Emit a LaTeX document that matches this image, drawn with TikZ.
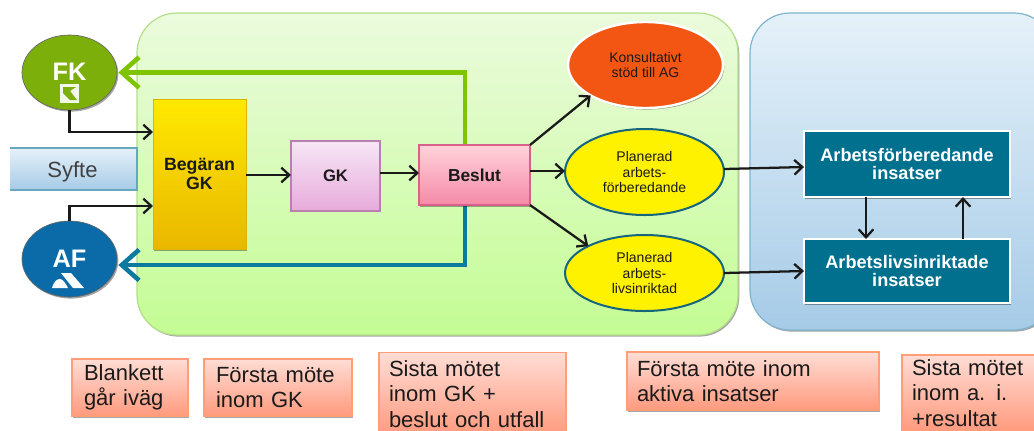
\documentclass[tikz,border=0pt]{standalone}
\usepackage{fontspec}
\setmainfont{Liberation Sans}
\usetikzlibrary{arrows.meta,shapes.geometric,shadows}
\definecolor{panelgT}{HTML}{EBFBDD}\definecolor{panelgB}{HTML}{C4FC94}\definecolor{panelgL}{HTML}{B4DE88}
\definecolor{panelbT}{HTML}{E5F1F9}\definecolor{panelbB}{HTML}{A6CBE7}\definecolor{panelbL}{HTML}{7FB4CE}
\definecolor{fkgreen}{HTML}{7DAF0A}\definecolor{afblue}{HTML}{0B6BA8}
\definecolor{arrgreen}{HTML}{7FC400}\definecolor{arrblue}{HTML}{0C7A9E}
\definecolor{orangeO}{HTML}{F25612}\definecolor{tealbox}{HTML}{00708F}\definecolor{yellowL}{HTML}{15657F}
\definecolor{noteT}{HTML}{FFDDD5}\definecolor{noteB}{HTML}{FF9A7E}\definecolor{noteL}{HTML}{FF9E78}
\definecolor{inkdark}{HTML}{1A1A1A}
\definecolor{begT}{HTML}{FFE900}\definecolor{begB}{HTML}{E9B700}\definecolor{begL}{HTML}{DDB300}
\definecolor{gkT}{HTML}{F7E6F5}\definecolor{gkB}{HTML}{E6ABDB}\definecolor{gkL}{HTML}{B87FB0}
\definecolor{beslT}{HTML}{FFD2DA}\definecolor{beslB}{HTML}{F58AA8}\definecolor{beslL}{HTML}{D9608A}
\tikzset{
  softshadow/.style={drop shadow={shadow xshift=1pt,shadow yshift=-1.2pt,opacity=.35,fill=black}},
  basenode/.style={inner sep=0pt,outer sep=0pt,align=center,text=inkdark},
  panel/.style={basenode,rectangle,rounded corners=30pt,line width=.9pt},
  elli/.style={basenode,ellipse,font=\fontsize{10.5}{11.3}\selectfont},
  planned/.style={elli,fill=yellow,draw=yellowL,line width=1.5pt},
  tealnode/.style={basenode,rectangle,fill=tealbox,draw=white,line width=2.2pt,text=white,
    font=\fontsize{13.6}{13.8}\selectfont\bfseries,softshadow},
  note/.style={basenode,rectangle,align=left,top color=noteT,bottom color=noteB,draw=noteL,line width=.8pt,
    font=\fontsize{16.5}{19}\selectfont,softshadow},
  agency/.style={basenode,ellipse,draw=black!60,line width=.5pt,softshadow},
  agencytext/.style={basenode,text=white,font=\fontsize{19}{19}\selectfont\bfseries},
  arr/.style={draw=inkdark,line width=1.7pt,-{Straight Barb[length=6pt,width=11pt,line width=1.7pt]}},
  bigarr/.style={line width=3.4pt,line join=miter,shorten >=1pt,-{Straight Barb[length=13pt,width=23pt,line width=3.4pt]}}
}
\begin{document}
\begin{tikzpicture}[x=.75pt,y=-.75pt]
\useasboundingbox (0,0) rectangle (1034,430);
\clip (0,0) rectangle (1034,430);
\fill[white] (0,0) rectangle (1034,430);

% panels
\node[panel,top color=panelgT,bottom color=panelgB,draw=panelgL,minimum width=450.75pt,minimum height=241.5pt,softshadow] (green) at (437.5,174) {};
\node[panel,top color=panelbT,bottom color=panelbB,draw=panelbL,minimum width=228pt,minimum height=237.75pt,softshadow] (blue) at (902,171.5) {};

% Syfte
\node[basenode,top color=panelbT,bottom color=panelbB,minimum width=95.25pt,minimum height=31.5pt,font=\fontsize{16.5}{18}\selectfont,text=black!75,text height=14pt,text depth=1pt] (syfte) at (73.5,169) {\kern-1.5pt Syfte};
\draw[draw=panelbL!80!teal,line width=.9pt] (syfte.north west) -- (syfte.north east) -- (syfte.south east) -- (syfte.south west);

% agencies
\node[agency,fill=fkgreen,minimum width=71.25pt,minimum height=56.25pt] (fk) at (69.5,72.5) {};
\node[agencytext] (fklabel) at (69.5,72) {FK};
\node[agency,fill=afblue,minimum width=71.25pt,minimum height=57pt] (af) at (69.5,259) {};
\node[agencytext] (aflabel) at (69.5,259) {AF};
% logos
\fill[white!90!fkgreen] (60,84) rectangle (79,103);
\fill[fkgreen] (63,87) -- (76,87) -- (70,91) -- (77,100) -- (70,100) -- (63,93) -- cycle;
\fill[white] (52,288) .. controls (54,281) and (57,279) .. (60,279) .. controls (63,279) and (66,284) .. (68,288) -- cycle;
\fill[white] (61,273) -- (71,273) -- (84,288) -- (73,288) -- cycle;

% process boxes
\node[basenode,rectangle,top color=begT,bottom color=begB,draw=begL,line width=.6pt,minimum width=69.75pt,minimum height=112.5pt,font=\fontsize{13.3}{13.8}\selectfont\bfseries,softshadow] (beg) at (199.5,174) {Begäran\\GK};
\node[basenode,rectangle,top color=gkT,bottom color=gkB,draw=gkL,line width=.8pt,minimum width=66.75pt,minimum height=52.5pt,font=\fontsize{12.5}{14}\selectfont\bfseries] (gk) at (335.5,176) {GK};

% ellipses
\node[elli,fill=orangeO,draw=white,line width=1.8pt,minimum width=116.25pt,minimum height=64.5pt,softshadow] (kons) at (645.5,65) {Konsultativt\\stöd till AG};
\node[planned,minimum width=119.25pt,minimum height=64.5pt] (pone) at (644.5,172) {Planerad\\arbets-\\förberedande};
\node[planned,minimum width=119.25pt,minimum height=57pt] (ptwo) at (644.5,273) {Planerad\\arbets-\\livsinriktad};

% teal boxes
\node[tealnode,minimum width=154.5pt,minimum height=49.5pt] (boxa) at (907,164) {Arbetsförberedande\\insatser};
\node[tealnode,minimum width=154.5pt,minimum height=48pt] (boxb) at (907,271) {Arbetslivsinriktade\\insatser};

% Beslut placeholder for connector names
\node[basenode,rectangle,minimum width=83.25pt,minimum height=45pt] (beslanchor) at (474.5,175) {};

% thick return lines
\draw[bigarr,draw=arrgreen] ([xshift=-7pt]beslanchor.north) |- (fk.east);
\draw[bigarr,draw=arrblue] ([xshift=-7pt]beslanchor.south) |- ([yshift=-4.5pt]af.east);

% Beslut
\node[basenode,rectangle,top color=beslT,bottom color=beslB,draw=beslL,line width=.8pt,minimum width=83.25pt,minimum height=45pt,font=\fontsize{13}{14}\selectfont\bfseries,softshadow] (besl) at (474.5,175) {Beslut};

% connectors
\draw[arr] (fk.south) |- ([yshift=31.5pt]beg.west);
\draw[arr] (af.north) |- ([yshift=-24pt]beg.west);
\draw[arr] ([yshift=-.75pt]beg.east) -- ([yshift=.75pt]gk.west);
\draw[arr] ([yshift=2.25pt]gk.east) -- ([yshift=1.5pt]besl.west);
\draw[arr] (besl.north east) -- (kons.south west);
\draw[arr] ([yshift=3pt]besl.east) -- ([yshift=.75pt]pone.west);
\draw[arr] (besl.south east) -- (ptwo.north west);
\draw[arr] ([yshift=2.25pt]pone.east) -- ([yshift=-2.25pt]boxa.west);
\draw[arr] (ptwo.east) -- (boxb.west);
\draw[arr] ([xshift=-30.75pt]boxa.south) -- ([xshift=-30.75pt]boxb.north);
\draw[arr] ([xshift=42pt]boxb.north) -- ([xshift=42pt]boxa.south);

% notes
\node[note,minimum width=87pt,minimum height=42.75pt,text width=69pt] (notea) at (130,387.5) {Blankett\\går iväg};
\node[note,minimum width=111pt,minimum height=42.75pt,text width=93pt] (noteb) at (278,387.5) {Första möte\\inom GK};
\node[note,minimum width=140.25pt,minimum height=62pt,text width=125.25pt] (notec) at (472.5,394) {Sista mötet\\inom GK +\\beslut och utfall};
\node[note,minimum width=189pt,minimum height=43.5pt,text width=174pt] (noted) at (753,381) {Första möte  inom\\aktiva insatser};
\node[note,minimum width=105pt,minimum height=57pt,text width=90pt] (notee) at (972,393) {Sista mötet\\inom a. i.\\+resultat};
\end{tikzpicture}
\end{document}
